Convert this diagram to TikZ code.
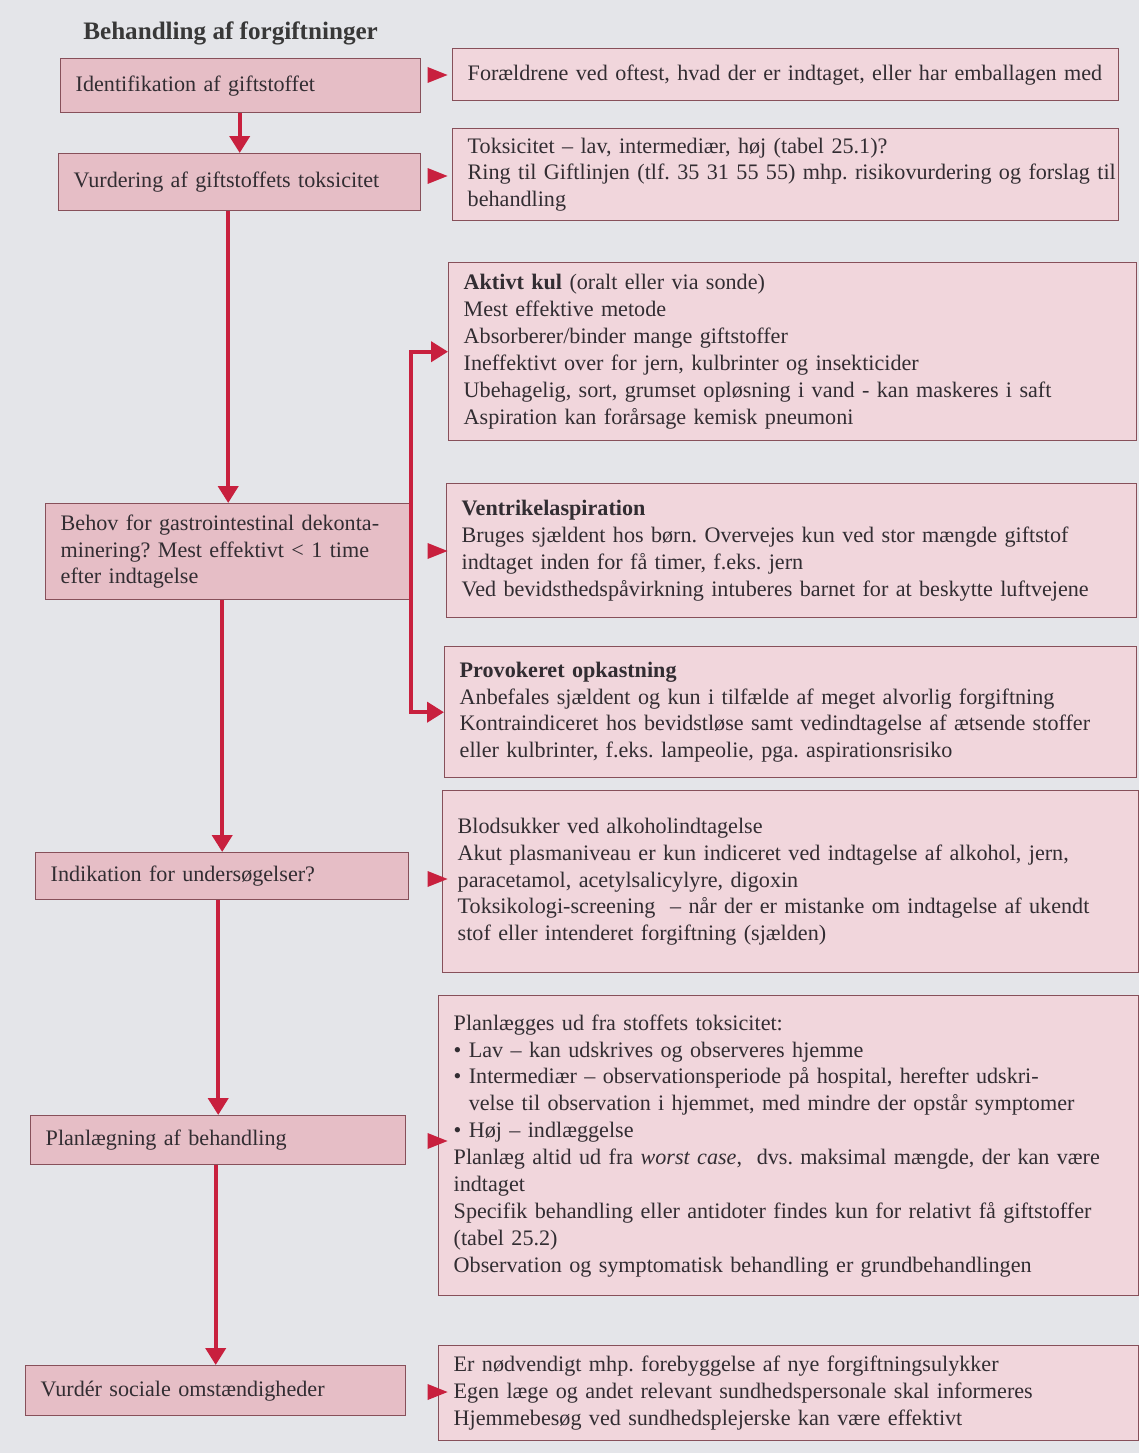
\documentclass[tikz,border=0pt]{standalone}
\usepackage{fontspec}
\setmainfont{Liberation Serif}
\usetikzlibrary{arrows.meta, shapes.geometric, positioning}

\definecolor{pagebg}{RGB}{228,229,233}
\definecolor{mainpink}{RGB}{230,190,198}
\definecolor{sidepink}{RGB}{241,214,220}
\definecolor{boxline}{RGB}{135,80,90}
\definecolor{flowred}{RGB}{200,32,62}
\definecolor{txt}{RGB}{50,45,50}

\begin{document}
\begin{tikzpicture}[x=0.02cm, y=-0.02cm,
    every node/.style={font={\fontsize{12.6}{15.3}\selectfont\frenchspacing}, text=txt},
    box/.style={draw=boxline, line width=0.8pt, rectangle, align=left, inner xsep=0.3cm, inner ysep=0pt, anchor=north west},
    leftbox/.style 2 args={box, fill=mainpink, text width=#1*0.02cm-0.6cm, minimum height=#2*0.02cm},
    sidebox/.style 2 args={box, fill=sidepink, text width=#1*0.02cm-0.6cm, minimum height=#2*0.02cm},
    flow/.style={draw=flowred, line width=2.3pt, -{Triangle[width=0.4cm, length=0.34cm]}},
    pointer/.style={isosceles triangle, isosceles triangle stretches, fill=flowred, inner sep=0pt, minimum width=0.32cm, minimum height=0.4cm}]
    \useasboundingbox (0,0) rectangle (1139,1453);
    \fill[pagebg] (0,0) rectangle (1139,1453);
    \node[font={\fontsize{14.3}{16}\selectfont\bfseries}, text=black!78, inner sep=0pt, anchor=base west] (title) at (83,40) {Behandling af forgiftninger};

    \node[leftbox={360}{54}] (ident) at (60,58) {Identifikation af giftstoffet};
    \node[leftbox={362}{57}] (vurd) at (58,153) {Vurdering af giftstoffets toksicitet};
    \node[leftbox={365}{96}] (behov) at (45,503) {Behov for gastrointestinal dekonta-\\minering? Mest effektivt < 1 time\\efter indtagelse};
    \node[leftbox={373}{47}] (indik) at (35,852) {Indikation for undersøgelser?};
    \node[leftbox={375}{49}] (planlaeg) at (30,1115) {Planlægning af behandling};
    \node[leftbox={380}{50}] (social) at (25,1365) {Vurdér sociale omstændigheder};

    \node[sidebox={666}{52}] (foraeld) at (452,48) {\mbox{Forældrene ved oftest, hvad der er indtaget, eller har emballagen med}};
    \node[sidebox={666}{92}] (toks) at (452,128) {Toksicitet – lav, intermediær, høj (tabel 25.1)?\\\mbox{Ring til Giftlinjen (tlf. 35 31 55 55) mhp. risikovurdering og forslag til}\\behandling};
    \node[sidebox={688}{178}] (kul) at (448,262) {\textbf{Aktivt kul} (oralt eller via sonde)\\Mest effektive metode\\Absorberer/binder mange giftstoffer\\Ineffektivt over for jern, kulbrinter og insekticider\\Ubehagelig, sort, grumset opløsning i vand - kan maskeres i saft\\Aspiration kan forårsage kemisk pneumoni};
    \node[sidebox={690}{134}] (ventr) at (446,483) {\textbf{Ventrikelaspiration}\\Bruges sjældent hos børn. Overvejes kun ved stor mængde giftstof\\indtaget inden for få timer, f.eks. jern\\Ved bevidsthedspåvirkning intuberes barnet for at beskytte luftvejene};
    \node[sidebox={692}{131}] (provok) at (444,646) {\textbf{Provokeret opkastning}\\Anbefales sjældent og kun i tilfælde af meget alvorlig forgiftning\\Kontraindiceret hos bevidstløse samt vedindtagelse af ætsende stoffer\\eller kulbrinter, f.eks. lampeolie, pga. aspirationsrisiko};
    \node[sidebox={696}{182}] (blod) at (442,790) {Blodsukker ved alkoholindtagelse\\Akut plasmaniveau er kun indiceret ved indtagelse af alkohol, jern,\\paracetamol, acetylsalicylyre, digoxin\\Toksikologi-screening~ – når der er mistanke om indtagelse af ukendt\\stof eller intenderet forgiftning (sjælden)};
    \node[sidebox={700}{300}] (planl) at (438,995) {Planlægges ud fra stoffets toksicitet:\\\textbullet~Lav – kan udskrives og observeres hjemme\\\textbullet~Intermediær – observationsperiode på hospital, herefter udskri-\\\phantom{\textbullet~}velse til observation i hjemmet, med mindre der opstår symptomer\\\textbullet~Høj – indlæggelse\\Planlæg altid ud fra \textit{worst case},~ dvs. maksimal mængde, der kan være\\indtaget\\Specifik behandling eller antidoter findes kun for relativt få giftstoffer\\(tabel 25.2)\\Observation og symptomatisk behandling er grundbehandlingen};
    \node[sidebox={700}{95}] (hjem) at (438,1345) {Er nødvendigt mhp. forebyggelse af nye forgiftningsulykker\\Egen læge og andet relevant sundhedspersonale skal informeres\\Hjemmebesøg ved sundhedsplejerske kan være effektivt};

    \node[pointer] (tri1) at (433,75) {};
    \node[pointer] (tri2) at (433,176) {};
    \node[pointer] (tri3) at (433,551) {};
    \node[pointer] (tri4) at (433,879) {};
    \node[pointer] (tri5) at (433,1141) {};
    \node[pointer] (tri6) at (433,1392) {};

    \draw[flow] (ident.south -| vurd.north) -- (vurd.north);
    \draw[flow] (vurd.south -| behov.north) -- (behov.north);
    \draw[flow] (behov.south -| indik.north) -- (indik.north);
    \draw[flow] (indik.south -| planlaeg.north) -- (planlaeg.north);
    \draw[flow] (planlaeg.south -| social.north) -- (social.north);
    \draw[flow] (behov.east) |- (kul.west);
    \draw[flow] (behov.east) |- (provok.west);
\end{tikzpicture}
\end{document}
